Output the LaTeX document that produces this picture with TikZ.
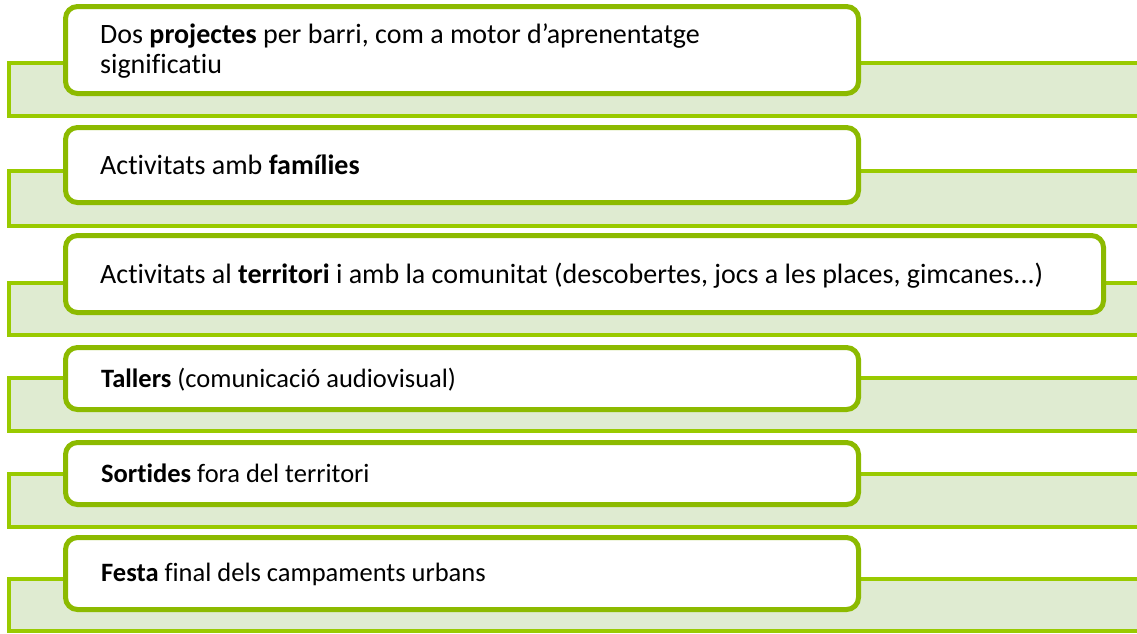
\documentclass[tikz,border=0pt]{standalone}
\usepackage{fontspec}
\setmainfont{Carlito}[Ligatures=NoCommon]
\definecolor{barline}{RGB}{153,202,0}
\definecolor{barfill}{RGB}{223,235,209}
\definecolor{boxline}{RGB}{140,186,0}
\begin{document}
\begin{tikzpicture}[x=1pt,y=-1pt,
  bar/.style={draw=barline, fill=barfill, line width=4pt, anchor=north west, inner sep=0pt, outer sep=0pt},
  card/.style={draw=boxline, fill=white, line width=5pt, rounded corners=12pt, anchor=north west, inner sep=0pt, outer sep=0pt, minimum width=793pt},
  label/.style={anchor=base west, font=\fontsize{26.5}{30}\selectfont, inner sep=0pt, align=left, text=black},
  biglabel/.style={label, font=\fontsize{28}{30}\selectfont}]
\useasboundingbox (0,0) rectangle (1137,633);
\clip (0,0) rectangle (1137,633);
% row 1
\node[bar, minimum width=1160pt, minimum height=53pt] (bar1) at (9,63) {};
\node[card, minimum height=87pt] (card1) at (65.5,6.5) {};
\node[biglabel] (t1) at (100,73) {Dos \textbf{projectes} per barri, com a motor d’aprenentatge\\significatiu};
% row 2
\node[bar, minimum width=1160pt, minimum height=55pt] (bar2) at (9,171) {};
\node[card, minimum height=75pt] (card2) at (65.5,127.5) {};
\node[biglabel] (t2) at (100,174) {Activitats amb \textbf{famílies}};
% row 3
\node[bar, minimum width=1160pt, minimum height=52pt] (bar3) at (9,283) {};
\node[card, minimum width=1038pt, minimum height=77pt] (card3) at (65.5,235.5) {};
\node[biglabel] (t3) at (100,283) {Activitats al \textbf{territori} i amb la comunitat (descobertes, jocs a les places, gimcanes...)};
% row 4
\node[bar, minimum width=1160pt, minimum height=53pt] (bar4) at (9,378) {};
\node[card, minimum height=62pt] (card4) at (65.5,347.5) {};
\node[label] (t4) at (101,387) {\textbf{Tallers} (comunicació audiovisual)};
% row 5
\node[bar, minimum width=1160pt, minimum height=53pt] (bar5) at (9,474) {};
\node[card, minimum height=62pt] (card5) at (65.5,442.5) {};
\node[label] (t5) at (101,482) {\textbf{Sortides} fora del territori};
% row 6
\node[bar, minimum width=1160pt, minimum height=52pt] (bar6) at (9,579) {};
\node[card, minimum height=72pt] (card6) at (65.5,537.5) {};
\node[label] (t6) at (101,581) {\textbf{Festa} final dels campaments urbans};
\end{tikzpicture}
\end{document}
